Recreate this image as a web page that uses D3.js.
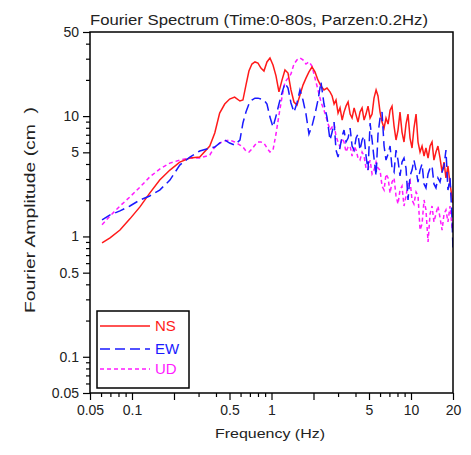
<!DOCTYPE html>
<html>
<head>
<meta charset="utf-8">
<script src="https://cdn.jsdelivr.net/npm/d3@7"></script>
<style>
  body { margin: 0; background: #fff; }
  text { font-family: "Liberation Sans", Arial, sans-serif; }
</style>
</head>
<body>
<div id="chart"></div>
<script>
// Frequencies (Hz) shared by the three components
var freq = [0.061, 0.0696, 0.082, 0.0966, 0.114, 0.134, 0.158, 0.187, 0.220, 0.260, 0.306, 0.361,
  0.392, 0.425, 0.462, 0.501, 0.544,
  0.594, 0.624, 0.656, 0.689, 0.724, 0.761, 0.800, 0.840, 0.883, 0.928,
  0.975, 1.025, 1.077, 1.131, 1.189, 1.249, 1.313, 1.379, 1.449, 1.523,
  1.600, 1.681, 1.767, 1.856, 1.951, 2.050, 2.154, 2.263, 2.378, 2.499, 2.626,
  2.72, 2.81, 2.90, 3.00, 3.10, 3.21, 3.31, 3.42, 3.54, 3.66,
  3.78, 3.91, 4.04, 4.17, 4.31, 4.46, 4.61, 4.76, 4.92, 5.09,
  5.26, 5.43, 5.62, 5.80, 6.00, 6.20, 6.41, 6.62, 6.85, 7.08,
  7.31, 7.56, 7.81, 8.07, 8.34, 8.62, 8.91, 9.21, 9.52, 9.84,
  10.17, 10.5, 10.87, 11.23, 11.61, 12.0, 12.4, 12.8, 13.25, 13.7,
  14.15, 14.6, 15.1, 15.6, 16.15, 16.7, 17.25, 17.8, 18.4, 19.05,
  19.7, 20];

// NS component
var nsAmp = [0.885, 0.974, 1.13, 1.40, 1.76, 2.29, 2.94, 3.56, 4.15, 4.48, 4.57, 5.64,
  7.24, 10.6, 12.6, 13.85, 14.4,
  13.35, 13.6, 18.1, 23.7, 27.1, 28.2, 27.6, 25.1, 23.7, 28.2,
  30.4, 26.6, 21.6, 15.9, 19.9, 24.2, 22.8, 16.5, 13.1, 12.35,
  15.0, 18.1, 20.7, 23.3, 25.6, 23.3, 19.9, 17.8, 16.5, 17.1, 15.9,
  14.7, 12.6, 13.6, 10.6, 11.7, 9.28, 10.8, 12.1, 13.1, 10.4,
  9.64, 11.7, 10.2, 8.93, 10.8, 11.7, 9.28, 10.4, 12.1, 9.64,
  10.4, 14.1, 16.5, 14.7, 10.8, 8.93, 7.96, 9.64, 8.59, 11.2,
  12.1, 8.27, 6.33, 7.66, 10.8, 7.37, 6.09, 8.59, 10.4, 6.57,
  5.43, 7.96, 10.4, 6.09, 5.03, 5.64, 4.66, 5.43, 4.48, 5.64,
  6.09, 4.31, 5.03, 5.64, 4.48, 3.43, 4.15, 3.06, 3.85, 2.73,
  2.09, 1.9];

// EW component
var ewAmp = [1.37, 1.51, 1.63, 1.79, 2.01, 2.17, 2.43, 2.94, 3.92, 4.57, 5.13, 5.43,
  5.53, 5.97, 6.33, 5.97, 5.75,
  6.33, 8.76, 10.8, 12.6, 13.6, 14.1, 14.1, 13.85, 13.6, 12.6,
  9.82, 8.12, 10.0, 12.6, 15.6, 18.8, 17.1, 12.85, 10.8, 12.85,
  16.5, 13.6, 10.4, 7.10, 8.27, 10.4, 13.6, 19.2, 12.6, 9.82, 6.33,
  7.37, 8.93, 5.22, 4.57, 5.53, 6.83, 7.66, 6.09, 6.57, 7.96,
  5.64, 5.22, 6.57, 7.10, 5.22, 6.33, 6.83, 4.66, 3.56, 8.76,
  6.33, 4.48, 3.18, 7.10, 9.64, 10.8, 5.64, 4.31, 4.84, 5.64,
  3.70, 3.43, 5.22, 4.31, 3.18, 4.15, 4.48, 3.70, 2.01, 3.18,
  3.56, 4.31, 3.56, 2.83, 3.56, 4.00, 2.73, 2.53, 3.30, 3.70,
  3.85, 2.73, 2.53, 3.06, 2.83, 3.43, 3.85, 5.22, 2.43, 3.06,
  1.37, 0.774];

// UD component
var udAmp = [1.25, 1.48, 1.79, 2.13, 2.57, 3.12, 3.63, 4.07, 4.31, 4.48, 4.48, 4.75,
  5.53, 5.97, 6.21, 6.33, 6.09,
  5.75, 5.53, 5.13, 5.03, 5.33, 5.75, 6.09, 6.09, 5.97, 5.43,
  5.03, 5.22, 7.10, 10.2, 14.4, 19.2, 20.7, 22.4, 27.1, 29.3,
  30.4, 29.3, 27.1, 28.2, 26.1, 20.7, 16.5, 13.1, 11.2, 9.28, 7.66,
  8.12, 8.59, 6.83, 6.09, 5.53, 6.57, 6.09, 5.03, 5.53, 5.64,
  4.66, 5.64, 5.22, 4.48, 4.31, 5.03, 4.66, 3.70, 3.56, 4.31,
  3.30, 3.56, 4.15, 3.70, 3.56, 2.62, 2.43, 3.30, 3.06, 2.29,
  2.83, 3.06, 2.17, 1.86, 2.43, 2.62, 1.79, 2.17, 2.73, 2.94,
  2.01, 1.86, 2.34, 2.17, 1.13, 1.27, 2.01, 1.66, 0.902, 1.54,
  1.79, 1.32, 1.54, 1.79, 1.43, 1.13, 1.54, 1.66, 1.32, 1.79,
  1.18, 1.09];

var seriesNames = ["NS", "EW", "UD"];
var seriesColors = ["#ff1a1a", "#1a1aff", "#ff1aff"];
var seriesDash = [null, "10,5", "4,3"];

var xTickLabels = [0.05, 0.1, 0.5, 1, 5, 10, 20];
var xMajorUnlabeled = [0.2, 2];
var yTickLabels = [0.05, 0.1, 0.5, 1, 5, 10, 50];

var margin = { top: 32, right: 18, bottom: 62, left: 90 },
  width = 471 - margin.left - margin.right,
  height = 455 - margin.top - margin.bottom;

var svg = d3.select("#chart")
  .append("svg")
  .attr("width", 471)
  .attr("height", 455);

var g = svg.append("g")
  .attr("transform", "translate(" + margin.left + "," + margin.top + ")");

var x = d3.scaleLog().domain([0.05, 20]).range([0, width]);
var y = d3.scaleLog().domain([0.05, 50]).range([height, 0]);

// minor ticks taken from the log scales
var xMinor = x.ticks().filter(function (d) {
  return xTickLabels.concat(xMajorUnlabeled).every(function (t) { return Math.abs(t - d) > 1e-9; });
});
var yMinor = y.ticks().filter(function (d) {
  return yTickLabels.every(function (t) { return Math.abs(t - d) > 1e-9; });
});

function styleAxis(sel) {
  sel.select(".domain").remove();
  sel.selectAll("line").attr("stroke", "#000").attr("stroke-width", 1.2);
  sel.selectAll("text").attr("fill", "#222").style("font-size", "14px");
}

// X axis
g.append("g").attr("transform", "translate(0," + height + ")")
  .call(d3.axisBottom(x).tickValues(xMinor).tickSize(4).tickFormat(""))
  .call(styleAxis);
g.append("g").attr("transform", "translate(0," + height + ")")
  .call(d3.axisBottom(x).tickValues(xMajorUnlabeled).tickSize(7).tickFormat(""))
  .call(styleAxis);
g.append("g").attr("transform", "translate(0," + height + ")")
  .call(d3.axisBottom(x).tickValues(xTickLabels).tickSize(7).tickPadding(5)
    .tickFormat(function (d) { return String(d); }))
  .call(styleAxis);

// Y axis
g.append("g")
  .call(d3.axisLeft(y).tickValues(yMinor).tickSize(4).tickFormat(""))
  .call(styleAxis);
g.append("g")
  .call(d3.axisLeft(y).tickValues(yTickLabels).tickSize(7).tickPadding(4)
    .tickFormat(function (d) { return String(d); }))
  .call(styleAxis);

// clip + lines
g.append("clipPath").attr("id", "clip")
  .append("rect").attr("width", width).attr("height", height);

var line = d3.line()
  .x(function (d) { return x(d[0]); })
  .y(function (d) { return y(d[1]); });

var allSeries = [
  d3.zip(freq, nsAmp),
  d3.zip(freq, ewAmp),
  d3.zip(freq, udAmp)
];

// UD underneath, then NS, EW on top
[2, 0, 1].forEach(function (i) {
  g.append("path")
    .datum(allSeries[i])
    .attr("clip-path", "url(#clip)")
    .attr("fill", "none")
    .attr("stroke", seriesColors[i])
    .attr("stroke-width", 1.5)
    .attr("stroke-dasharray", seriesDash[i])
    .attr("d", line);
});

// frame
g.append("rect")
  .attr("width", width).attr("height", height)
  .attr("fill", "none").attr("stroke", "#000").attr("stroke-width", 1.5);

// legend
var legend = g.append("g").attr("transform", "translate(7,279)");
legend.append("rect")
  .attr("width", 92).attr("height", 77)
  .attr("fill", "#fff").attr("stroke", "#000").attr("stroke-width", 1.5);
seriesNames.forEach(function (name, i) {
  var ly = [15, 38, 58][i];
  legend.append("line")
    .attr("x1", 3).attr("x2", 53).attr("y1", ly).attr("y2", ly)
    .attr("stroke", seriesColors[i]).attr("stroke-width", 1.5)
    .attr("stroke-dasharray", seriesDash[i]);
  legend.append("text")
    .attr("x", 58).attr("y", ly + 5)
    .attr("fill", seriesColors[i])
    .style("font-size", "15px")
    .text(name);
});

// title and axis labels
svg.append("text")
  .attr("x", 259).attr("y", 25)
  .attr("text-anchor", "middle")
  .attr("textLength", 338).attr("lengthAdjust", "spacingAndGlyphs")
  .style("font-size", "14px").attr("fill", "#222")
  .text("Fourier Spectrum (Time:0-80s, Parzen:0.2Hz)");

svg.append("text")
  .attr("x", 270).attr("y", 438)
  .attr("text-anchor", "middle")
  .attr("textLength", 110).attr("lengthAdjust", "spacingAndGlyphs")
  .style("font-size", "13px").attr("fill", "#222")
  .text("Frequency (Hz)");

svg.append("text")
  .attr("transform", "translate(35,210) rotate(-90)")
  .attr("text-anchor", "middle")
  .attr("textLength", 206).attr("lengthAdjust", "spacingAndGlyphs")
  .style("font-size", "15px").attr("fill", "#222")
  .text("Fourier Amplitude (cm\u00a0\u00a0)");
</script>
</body>
</html>
